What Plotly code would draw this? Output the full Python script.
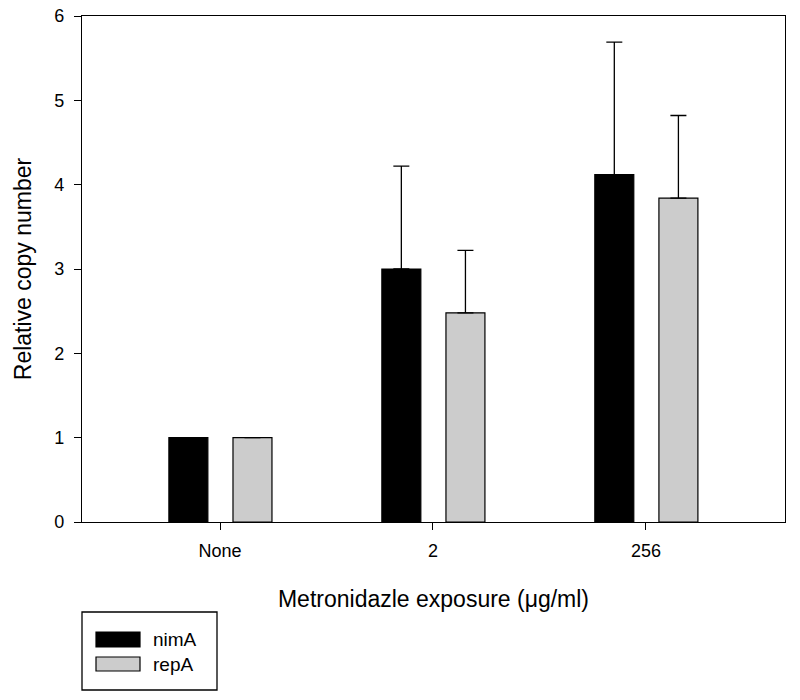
import plotly.graph_objects as go

categories = ["None", "2", "256"]
nimA_values = [1.0, 3.0, 4.12]
nimA_err = [0.0, 1.22, 1.57]
repA_values = [1.0, 2.48, 3.84]
repA_err = [0.0, 0.74, 0.98]
series_names = ["nimA", "repA"]
y_ticks = [0, 1, 2, 3, 4, 5, 6]

FONT = "Liberation Sans, Arial, sans-serif"
xpos = list(range(len(categories)))

fig = go.Figure()
for name, vals, errs, color, off in [
    (series_names[0], nimA_values, nimA_err, "#000000", -0.24),
    (series_names[1], repA_values, repA_err, "#cccccc", 0.061),
]:
    fig.add_trace(go.Bar(
        x=xpos, y=vals, name=name, width=0.183, offset=off,
        marker=dict(color=color, line=dict(color="#000000", width=1.2)),
        error_y=dict(type="data", symmetric=False, array=errs,
                     arrayminus=[0] * len(errs), color="#000000",
                     thickness=1.3, width=8, visible=True),
        showlegend=False,
    ))

fig.update_layout(
    width=800, height=700,
    margin=dict(l=82, r=15, t=16, b=178, autoexpand=False),
    paper_bgcolor="white", plot_bgcolor="white",
    barmode="overlay",
    font=dict(family=FONT, color="#000000"),
    showlegend=False,
)
fig.update_xaxes(
    range=[-0.648, 2.653], tickvals=xpos, ticktext=categories,
    ticks="outside", ticklen=7, tickwidth=1.2, tickcolor="#000000",
    showline=True, linecolor="#000000", linewidth=1.3, mirror=True,
    showgrid=False, zeroline=False, automargin=False,
    ticklabelstandoff=5, ticklabeloverflow="allow",
    tickfont=dict(size=18, family=FONT),
    title=dict(text="Metronidazle exposure (μg/ml)", font=dict(size=23, family=FONT), standoff=31),
)
fig.update_yaxes(
    range=[0, 6], tickvals=y_ticks,
    ticks="outside", ticklen=7, tickwidth=1.2, tickcolor="#000000",
    showline=True, linecolor="#000000", linewidth=1.3, mirror=True,
    showgrid=False, zeroline=False, automargin=False,
    ticklabelstandoff=6, ticklabeloverflow="allow",
    tickfont=dict(size=18, family=FONT),
    title=dict(text="Relative copy number", font=dict(size=23, family=FONT), standoff=16),
)

# Legend drawn as a boxed key (paper coordinates derived from reference pixels)
def px_x(p):
    return (p - 82) / 703.0

def px_y(p):
    return (522 - p) / 506.0

shapes = [
    dict(type="rect", xref="paper", yref="paper",
         x0=px_x(82), x1=px_x(217), y0=px_y(690), y1=px_y(612),
         line=dict(color="#000000", width=1.3), fillcolor="white"),
    dict(type="rect", xref="paper", yref="paper",
         x0=px_x(96), x1=px_x(140), y0=px_y(647), y1=px_y(632),
         line=dict(color="#000000", width=1.2), fillcolor="#000000"),
    dict(type="rect", xref="paper", yref="paper",
         x0=px_x(96), x1=px_x(140), y0=px_y(671), y1=px_y(657),
         line=dict(color="#000000", width=1.2), fillcolor="#cccccc"),
]
for s in shapes:
    fig.add_shape(**s)
for name, yc in [(series_names[0], 639), (series_names[1], 664)]:
    fig.add_annotation(xref="paper", yref="paper", x=px_x(151), y=px_y(yc),
                       text=name, showarrow=False, xanchor="left", yanchor="middle",
                       font=dict(size=19, family=FONT, color="#000000"))

fig.write_html("out.html", config={"displayModeBar": False},
               post_script="document.body.style.margin='0';")
